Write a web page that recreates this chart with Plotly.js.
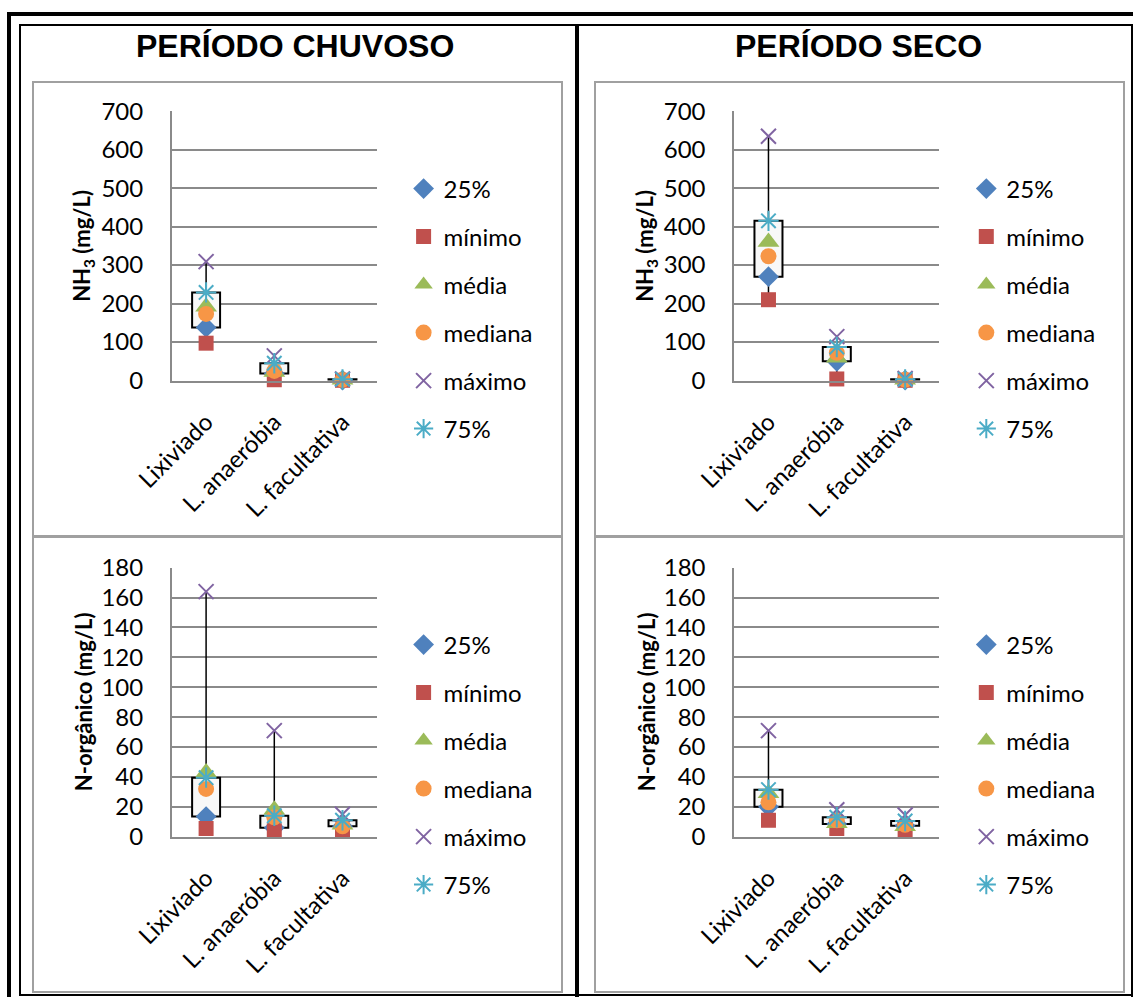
<!DOCTYPE html>
<html>
<head>
<meta charset="utf-8">
<script src="https://cdn.plot.ly/plotly-3.0.1.min.js"></script>
<style>
  html, body { margin: 0; padding: 0; background: #ffffff; }
  #chart { width: 1133px; height: 997px; }
</style>
</head>
<body>
<div id="chart"></div>
<script>
// Categories and series (order = drawing order = legend order)
const categories = ['Lixiviado', 'L. anaeróbia', 'L. facultativa'];
const seriesNames = ['25%', 'mínimo', 'média', 'mediana', 'máximo', '75%'];
const periodTitles = ['PERÍODO CHUVOSO', 'PERÍODO SECO'];
const nh3AxisTitle = '<b>NH<sub>3</sub> (mg/L)</b>';
const norgAxisTitle = '<b>N-orgânico (mg/L)</b>';
const nh3TickValues = [0, 100, 200, 300, 400, 500, 600, 700];
const norgTickValues = [0, 20, 40, 60, 80, 100, 120, 140, 160, 180];

// NH3 (mg/L) - período chuvoso
const nh3ChuvP25 = [138, 18, 1];
const nh3ChuvMin = [97, 2, 0.5];
const nh3ChuvMedia = [192, 22, 2];
const nh3ChuvMediana = [173, 25, 1.5];
const nh3ChuvMax = [309, 64, 4];
const nh3ChuvP75 = [229, 45, 3];

// NH3 (mg/L) - período seco
const nh3SecoP25 = [270, 50, 1];
const nh3SecoMin = [210, 4, 0.5];
const nh3SecoMedia = [360, 59, 2];
const nh3SecoMediana = [323, 72, 2];
const nh3SecoMax = [635, 114, 5];
const nh3SecoP75 = [415, 87, 3];

// N-orgânico (mg/L) - período chuvoso
const norgChuvP25 = [13.5, 6, 7];
const norgChuvMin = [5.5, 4, 4];
const norgChuvMedia = [43, 18, 8];
const norgChuvMediana = [32, 13, 7];
const norgChuvMax = [164, 71, 15];
const norgChuvP75 = [39.5, 14, 11];

// N-orgânico (mg/L) - período seco
const norgSecoP25 = [20, 8.5, 7.4];
const norgSecoMin = [11, 5.5, 4.5];
const norgSecoMedia = [29, 9, 7];
const norgSecoMediana = [23, 11, 8];
const norgSecoMax = [71, 18, 14.5];
const norgSecoP75 = [31.5, 13, 10.5];

// ---------------------------------------------------------------
const W = 1133, H = 997;
const fx = v => v / W;          // pixel x -> paper x
const fy = v => 1 - v / H;      // pixel y (from top) -> paper y

const seriesStyles = [
  { symbol: 'diamond',       color: '#4F81BD', size: 16, lw: 0 },
  { symbol: 'square',        color: '#C0504D', size: 15, lw: 0 },
  { symbol: 'triangle-up',   color: '#9BBB59', size: 19, lw: 0 },
  { symbol: 'circle',        color: '#F79646', size: 16, lw: 0 },
  { symbol: 'x-thin-open',   color: '#8064A2', size: 15, lw: 2 },
  { symbol: 'asterisk-open', color: '#4BACC6', size: 17, lw: 2 }
];

const panels = [
  { n: 1, plot: [172, 111.2, 376.6, 380.5], yMax: 700, ticks: nh3TickValues, title: nh3AxisTitle, titleX: 83,
    series: [nh3ChuvP25, nh3ChuvMin, nh3ChuvMedia, nh3ChuvMediana, nh3ChuvMax, nh3ChuvP75] },
  { n: 2, plot: [734.3, 111.2, 939.3, 380.5], yMax: 700, ticks: nh3TickValues, title: nh3AxisTitle, titleX: 646,
    series: [nh3SecoP25, nh3SecoMin, nh3SecoMedia, nh3SecoMediana, nh3SecoMax, nh3SecoP75] },
  { n: 3, plot: [172, 567.7, 376.6, 836.7], yMax: 180, ticks: norgTickValues, title: norgAxisTitle, titleX: 83,
    series: [norgChuvP25, norgChuvMin, norgChuvMedia, norgChuvMediana, norgChuvMax, norgChuvP75] },
  { n: 4, plot: [734.3, 567.7, 939.3, 836.7], yMax: 180, ticks: norgTickValues, title: norgAxisTitle, titleX: 646,
    series: [norgSecoP25, norgSecoMin, norgSecoMedia, norgSecoMediana, norgSecoMax, norgSecoP75] }
];

const textFamily = 'Lato, "Open Sans", sans-serif';
const tickFont = { family: textFamily, size: 24, color: '#000000' };
const gridGray = '#8a8a8a';

const traces = [];
const layout = {
  width: W, height: H,
  margin: { l: 0, r: 0, t: 0, b: 0, pad: 0 },
  paper_bgcolor: '#ffffff',
  plot_bgcolor: 'rgba(0,0,0,0)',
  barmode: 'overlay',
  showlegend: true,
  annotations: [],
  shapes: []
};

panels.forEach(p => {
  const sfx = p.n === 1 ? '' : String(p.n);
  const xa = 'x' + sfx, ya = 'y' + sfx;
  const legendName = 'legend' + sfx;
  const [x0, y0, x1, y1] = p.plot;
  const [p25, pMin, , , pMax, p75] = p.series;

  // box between 25% and 75%
  traces.push({
    type: 'bar', xaxis: xa, yaxis: ya,
    x: categories,
    y: p75.map((v, i) => v - p25[i]),
    base: p25,
    width: 0.41,
    marker: { color: '#f8f8f8', line: { color: '#000000', width: 2 } },
    showlegend: false, hoverinfo: 'skip'
  });

  // whiskers: mínimo -> 25% and 75% -> máximo
  const wx = [], wy = [];
  categories.forEach((c, i) => {
    wx.push(c, c, null, c, c, null);
    wy.push(pMin[i], p25[i], null, p75[i], pMax[i], null);
  });
  traces.push({
    type: 'scatter', mode: 'lines', xaxis: xa, yaxis: ya,
    x: wx, y: wy,
    line: { color: '#000000', width: 1.5 },
    showlegend: false, hoverinfo: 'skip'
  });

  // statistic markers
  p.series.forEach((vals, k) => {
    const st = seriesStyles[k];
    traces.push({
      type: 'scatter', mode: 'markers', xaxis: xa, yaxis: ya,
      x: categories, y: vals,
      name: seriesNames[k],
      legend: legendName,
      legendgroup: 'p' + p.n + 's' + k,
      marker: {
        symbol: st.symbol, size: st.size, color: st.color,
        line: { color: st.color, width: st.lw }
      },
      cliponaxis: false
    });
  });

  layout['xaxis' + sfx] = {
    domain: [fx(x0), fx(x1)], anchor: ya,
    type: 'category', range: [-0.5, 2.5],
    showgrid: false, zeroline: false,
    showline: true, linecolor: gridGray, linewidth: 2,
    ticks: '', tickangle: -45, tickfont: tickFont,
    ticklabelstandoff: 16, fixedrange: true
  };
  layout['yaxis' + sfx] = {
    domain: [fy(y1), fy(y0)], anchor: xa,
    range: [0, p.yMax], tickvals: p.ticks,
    showgrid: true, gridcolor: gridGray, gridwidth: 2,
    zeroline: false, showline: true, linecolor: gridGray, linewidth: 2,
    ticks: '', tickfont: tickFont,
    ticklabelstandoff: 22, fixedrange: true
  };

  const legendTop = p.n <= 2 ? 166.5 : 622.5;
  layout[legendName] = {
    x: fx(x1 + 27), y: fy(legendTop), xanchor: 'left', yanchor: 'top',
    orientation: 'v', traceorder: 'grouped', tracegroupgap: 13.8,
    bgcolor: 'rgba(0,0,0,0)', borderwidth: 0,
    font: { family: textFamily, size: 24, color: '#000000' }
  };

  // y axis title
  layout.annotations.push({
    xref: 'paper', yref: 'paper',
    x: fx(p.titleX), y: fy((y0 + y1) / 2),
    xanchor: 'center', yanchor: 'middle',
    text: p.title, textangle: -90, showarrow: false,
    font: { family: textFamily, size: 22, color: '#000000' }
  });
});

// column titles
[295, 858].forEach((cx, i) => {
  layout.annotations.push({
    xref: 'paper', yref: 'paper',
    x: fx(cx), y: fy(46), xanchor: 'center', yanchor: 'middle',
    text: '<b>' + periodTitles[i] + '</b>', showarrow: false,
    font: { family: '"Liberation Sans", Arial, sans-serif', size: 32, color: '#000000' }
  });
});

// gray chart-area frames
const chartFrames = [[33, 82, 562, 536], [595, 82, 1124, 536], [33, 537, 562, 992], [595, 537, 1124, 992]];
chartFrames.forEach(r => {
  layout.shapes.push({
    type: 'rect', xref: 'paper', yref: 'paper', layer: 'below',
    x0: fx(r[0]), x1: fx(r[2]), y0: fy(r[3]), y1: fy(r[1]),
    line: { color: '#a0a0a0', width: 2 }, fillcolor: 'rgba(0,0,0,0)'
  });
});

// black table rules
const tableRules = [
  [7, 12, 1133, 16],     // outer top
  [7, 12, 11, 997],      // outer left
  [19, 24, 1133, 26],    // inner top
  [19, 24, 21, 996],     // inner left
  [19, 994, 1133, 996],  // inner bottom
  [575, 24, 579, 997],   // column divider
  [1131, 24, 1133, 997]  // inner right
];
tableRules.forEach(r => {
  layout.shapes.push({
    type: 'rect', xref: 'paper', yref: 'paper', layer: 'above',
    x0: fx(r[0]), x1: fx(r[2]), y0: fy(r[3]), y1: fy(r[1]),
    line: { width: 0 }, fillcolor: '#000000'
  });
});

Plotly.newPlot('chart', traces, layout, { staticPlot: true, displayModeBar: false });
</script>
</body>
</html>
